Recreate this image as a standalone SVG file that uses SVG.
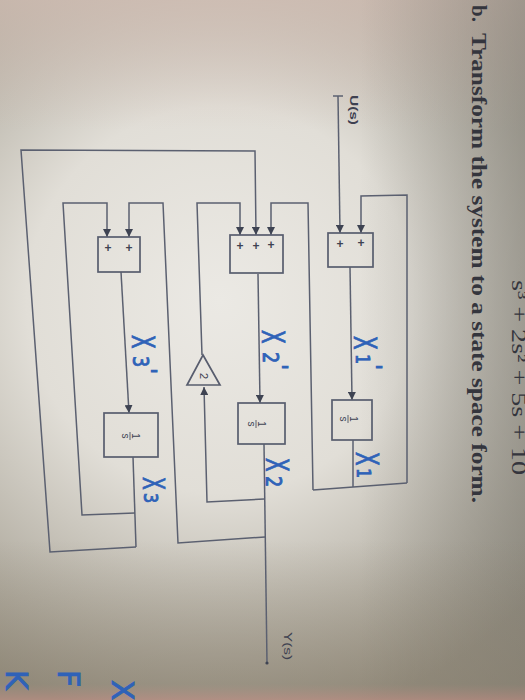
<svg xmlns="http://www.w3.org/2000/svg" width="525" height="700" viewBox="0 0 525 700">
<defs>
<radialGradient id="bgR" cx="220" cy="300" r="430" gradientUnits="userSpaceOnUse">
<stop offset="0" stop-color="#ebe9e4"/>
<stop offset="0.45" stop-color="#e1ded7"/>
<stop offset="1" stop-color="#9c9688"/>
</radialGradient>
<linearGradient id="topG" x1="0" y1="0" x2="0" y2="130" gradientUnits="userSpaceOnUse">
<stop offset="0" stop-color="#d2bdb3" stop-opacity="0.7"/>
<stop offset="1" stop-color="#d2bdb3" stop-opacity="0"/>
</linearGradient>
<linearGradient id="rightG" x1="360" y1="0" x2="525" y2="0" gradientUnits="userSpaceOnUse">
<stop offset="0" stop-color="#7c7a72" stop-opacity="0"/>
<stop offset="1" stop-color="#7c7a72" stop-opacity="0.5"/>
</linearGradient>
<linearGradient id="botG" x1="0" y1="540" x2="0" y2="700" gradientUnits="userSpaceOnUse">
<stop offset="0" stop-color="#857b69" stop-opacity="0"/>
<stop offset="0.9" stop-color="#857b69" stop-opacity="0.45"/>
<stop offset="1" stop-color="#b9857a" stop-opacity="0.6"/>
</linearGradient>
<marker id="arr" viewBox="0 0 10 10" refX="10" refY="5" markerWidth="8" markerHeight="8" markerUnits="userSpaceOnUse" orient="auto">
<path d="M0,0 L10,5 L0,10 z" fill="#3e4352"/>
</marker>
<style>
.w{fill:none;stroke:#5b6070;stroke-width:1.5;stroke-linejoin:miter}
.box{fill:none;stroke:#585d6e;stroke-width:1.7}
.plus{font-family:"Liberation Sans",Arial,sans-serif;font-size:12px;font-weight:bold;fill:#3e4352;text-anchor:middle}
.frac{font-family:"Liberation Sans",Arial,sans-serif;font-size:10px;fill:#3e4352;text-anchor:middle}
.lbl{font-family:"Liberation Sans",Arial,sans-serif;fill:#3e4150}
.title{font-family:"Liberation Serif","Times New Roman",serif;font-size:21px;font-weight:bold;fill:#34353d}
.hw{font-family:"DejaVu Sans",sans-serif;fill:#2f62b8;stroke:#2f62b8;stroke-width:0.9}
</style>
</defs>

<g id="background">
<rect width="525" height="700" fill="url(#bgR)"/>
<rect width="525" height="700" fill="url(#topG)"/>
<rect width="525" height="700" fill="url(#rightG)"/>
<rect width="525" height="700" fill="url(#botG)"/>
</g>

<g id="texts">
<text class="title" transform="translate(472,5) rotate(90)">b.</text>
<text class="title" transform="translate(472,33) rotate(90)" textLength="470" lengthAdjust="spacingAndGlyphs">Transform the system to a state space form.</text>
<text class="title" style="font-weight:normal" transform="translate(512,280) rotate(90)" textLength="195" lengthAdjust="spacingAndGlyphs">s³ + 2s² + 5s + 10</text>
<text class="lbl" font-size="11" font-weight="bold" transform="translate(350,95) rotate(90)" textLength="30" lengthAdjust="spacingAndGlyphs">U(s)</text>
<text class="lbl" font-size="10" transform="translate(284,632) rotate(90)" textLength="28" lengthAdjust="spacingAndGlyphs">Y(s)</text>
</g>

<g id="connectors">
<path class="w" d="M333,96 L343,96"/>
<path class="w" d="M338,96 L340,233" marker-end="url(#arr)"/>
<path class="w" d="M407,483 L407,195 L361,196 L361,233" marker-end="url(#arr)"/>
<path class="w" d="M350,267 L352,400" marker-end="url(#arr)"/>
<path class="w" d="M353,440 L353,487"/>
<path class="w" d="M313,490 L407,483"/>
<path class="w" d="M313,490 L308,203 L271,203 L271,235" marker-end="url(#arr)"/>
<path class="w" d="M258,274 L260,403" marker-end="url(#arr)"/>
<path class="w" d="M264,444 L267,663"/>
<circle cx="267" cy="663" r="1.6" fill="#3e4352"/>
<path class="w" d="M264,499 L207,502 L204,387" marker-end="url(#arr)"/>
<path class="w" d="M202,355 L197,203 L240,203 L240,235" marker-end="url(#arr)"/>
<path class="w" d="M265,537 L178,543 L163,203 L129,203 L129,237" marker-end="url(#arr)"/>
<path class="w" d="M121,272 L129,413" marker-end="url(#arr)"/>
<path class="w" d="M133,457 L136,547"/>
<path class="w" d="M135,513 L82,515 L63,203 L107,203 L107,237" marker-end="url(#arr)"/>
<path class="w" d="M136,547 L50,552 L21,150 L255,151 L256,235" marker-end="url(#arr)"/>
</g>

<g id="sum1">
<rect class="box" x="328" y="233" width="45" height="34"/>
<text class="plus" x="340" y="248">+</text>
<text class="plus" x="361" y="247">+</text>
</g>
<g id="sum2">
<rect class="box" x="230" y="235" width="53" height="38"/>
<text class="plus" x="240" y="250">+</text>
<text class="plus" x="256" y="250">+</text>
<text class="plus" x="271" y="249">+</text>
</g>
<g id="sum3">
<rect class="box" x="98" y="237" width="42" height="35"/>
<text class="plus" x="108" y="252">+</text>
<text class="plus" x="129" y="252">+</text>
</g>

<g id="int1">
<rect class="box" x="332" y="400" width="40" height="40"/>
<g transform="translate(347,419) rotate(90)">
<text class="frac" x="0" y="-3">1</text>
<line x1="-4" y1="-1" x2="4" y2="-1" stroke="#3e4352" stroke-width="0.8"/>
<text class="frac" x="0" y="7">s</text>
</g>
</g>
<g id="int2">
<rect class="box" x="238" y="403" width="47" height="41"/>
<g transform="translate(255,424) rotate(90)">
<text class="frac" x="0" y="-3">1</text>
<line x1="-4" y1="-1" x2="4" y2="-1" stroke="#3e4352" stroke-width="0.8"/>
<text class="frac" x="0" y="7">s</text>
</g>
</g>
<g id="int3">
<rect class="box" x="104" y="413" width="54" height="44"/>
<g transform="translate(129,436) rotate(90)">
<text class="frac" x="0" y="-3">1</text>
<line x1="-4" y1="-1" x2="4" y2="-1" stroke="#3e4352" stroke-width="0.8"/>
<text class="frac" x="0" y="7">s</text>
</g>
</g>

<g id="gain">
<polygon class="box" points="203,355 220,385 187,385"/>
<text class="lbl" font-size="11" text-anchor="middle" transform="translate(200,376) rotate(90)">2</text>
</g>

<g id="handwritten">
<text class="hw" font-size="32" transform="translate(354,336) rotate(90) scale(0.62,1)">X</text>
<text class="hw" font-size="20" transform="translate(356,354) rotate(90) scale(0.8,1)">1</text>
<text class="hw" font-size="22" transform="translate(366,364) rotate(90)">'</text>

<text class="hw" font-size="32" transform="translate(262,330) rotate(90) scale(0.62,1)">X</text>
<text class="hw" font-size="22" transform="translate(263,352) rotate(90) scale(0.8,1)">2</text>
<text class="hw" font-size="22" transform="translate(272,364) rotate(90)">'</text>

<text class="hw" font-size="32" transform="translate(132,335) rotate(90) scale(0.62,1)">X</text>
<text class="hw" font-size="22" transform="translate(133,356) rotate(90) scale(0.8,1)">3</text>
<text class="hw" font-size="22" transform="translate(141,368) rotate(90)">'</text>

<text class="hw" font-size="32" transform="translate(356,452) rotate(90) scale(0.62,1)">X</text>
<text class="hw" font-size="20" transform="translate(357,468) rotate(90) scale(0.8,1)">1</text>

<text class="hw" font-size="32" transform="translate(266,458) rotate(90) scale(0.62,1)">X</text>
<text class="hw" font-size="22" transform="translate(266,476) rotate(90) scale(0.8,1)">2</text>

<text class="hw" font-size="30" transform="translate(143,477) rotate(90) scale(0.62,1)">X</text>
<text class="hw" font-size="20" transform="translate(144,493) rotate(90) scale(0.8,1)">3</text>

<text class="hw" font-size="30" transform="translate(6,670) rotate(90)">K</text>
<text class="hw" font-size="30" transform="translate(58,670) rotate(90)">F</text>
<text class="hw" font-size="30" transform="translate(112,680) rotate(90)">X</text>
</g>
</svg>
